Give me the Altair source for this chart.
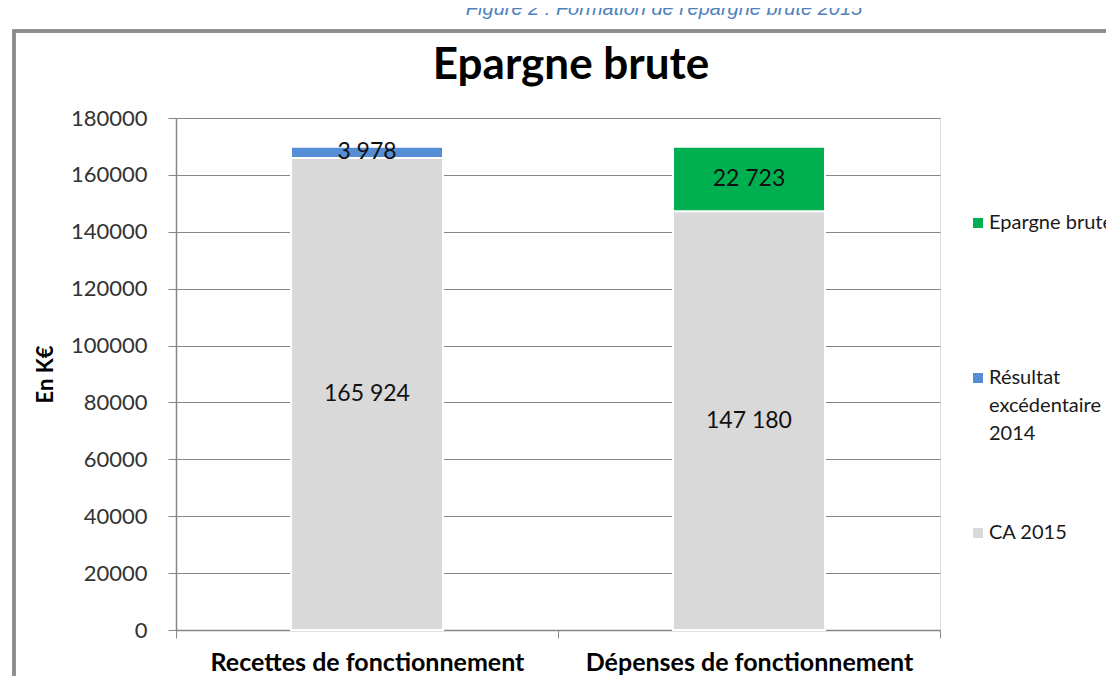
import altair as alt
import pandas as pd

categories = ["Recettes de fonctionnement", "Recettes de fonctionnement",
              "Dépenses de fonctionnement", "Dépenses de fonctionnement"]
series = ["CA 2015", "Résultat excédentaire 2014", "CA 2015", "Epargne brute"]
values = [165924, 3978, 147180, 22723]
stack_rank = [0, 1, 0, 1]

legend_order = ["Epargne brute", "Résultat excédentaire 2014", "CA 2015"]
legend_colors = ["#00B050", "#558ED5", "#D9D9D9"]
y_ticks = [0, 20000, 40000, 60000, 80000, 100000, 120000, 140000, 160000, 180000]
cat_order = ["Recettes de fonctionnement", "Dépenses de fonctionnement"]

title_text = "Epargne brute"
caption_text = "Figure 2 : Formation de l'épargne brute 2015"
y_title = "En K€"

df = pd.DataFrame({"cat": categories, "serie": series, "value": values, "rank": stack_rank})
df["label"] = [f"{v:,}".replace(",", " ") for v in values]

FONT = "Lato"
W, H = 764, 512

base = alt.Chart(df).transform_stack(
    stack="value", as_=["y0", "y1"], groupby=["cat"], sort=[alt.SortField("rank", order="ascending")]
).transform_calculate(mid="(datum.y0 + datum.y1) / 2")

xenc = alt.X("cat:N", sort=cat_order, title=None,
             scale=alt.Scale(paddingInner=0, paddingOuter=0),
             axis=alt.Axis(labelFont=FONT, labelFontSize=25, labelFontWeight="bold", labelColor="#000000",
                           labelPadding=12, labelAngle=0, tickBand="extent", tickSize=8,
                           tickColor="#868686", domainColor="#868686", domainWidth=1.5, grid=False,
                           labelLimit=400))

bars = base.mark_bar(stroke="white", strokeWidth=2, size=152).encode(
    x=xenc,
    y=alt.Y("y0:Q", scale=alt.Scale(domain=[0, 180000], nice=False), title=y_title,
            axis=alt.Axis(values=y_ticks, format="d", labelFont=FONT, labelFontSize=22,
                          labelColor="#333333", labelPadding=21, tickSize=8, tickColor="#868686",
                          domainColor="#868686", domainWidth=1.5, gridColor="#868686", gridWidth=1,
                          titleFont=FONT, titleFontSize=22, titleFontWeight="bold", titleColor="#000000",
                          titlePadding=13)),
    y2="y1:Q",
    color=alt.Color("serie:N", scale=alt.Scale(domain=legend_order, range=legend_colors),
                    legend=alt.Legend(title=None, orient="none", legendX=792, legendY=95,
                                      symbolType="square", symbolSize=100, symbolStrokeWidth=0,
                                      labelFont=FONT, labelFontSize=20, labelColor="#1a1a1a",
                                      labelLimit=300, gridAlign="all", rowPadding=79, labelOffset=1,
                                      labelExpr="datum.label == 'Résultat excédentaire 2014' ? ['Résultat', 'excédentaire', '2014'] : datum.label",
                                      labelBaseline="middle")),
    order=alt.Order("rank:Q"),
)

texts = base.mark_text(font=FONT, fontSize=23, color="#111111", baseline="middle").encode(
    x=alt.X("cat:N", sort=cat_order),
    y=alt.Y("mid:Q"),
    text="label:N",
)

frame = alt.Chart(df).mark_rect(fill=None, stroke="#8C8C8C", strokeWidth=3).encode(
    x=alt.value(-162), x2=alt.value(1100), y=alt.value(-87), y2=alt.value(700)
)

caption = alt.Chart(pd.DataFrame({"t": [caption_text]})).mark_text(
    font="Liberation Sans", fontSize=20, fontStyle="italic", color="#4F81BD", baseline="bottom", align="center"
).encode(x=alt.value(488), y=alt.value(-99), text="t:N")

title = alt.Chart(pd.DataFrame({"t": [title_text]})).mark_text(
    font=FONT, fontSize=44, fontWeight="bold", color="#000000", baseline="middle", align="center"
).encode(x=alt.value(395), y=alt.value(-52), text="t:N")

chart = alt.layer(frame, bars, texts, caption, title).properties(
    width=W, height=H,
    autosize=alt.AutoSizeParams(type="none"),
    padding={"left": 168, "top": 110, "right": 166, "bottom": 46},
).configure_view(stroke=None).configure(font=FONT, style={"guide-label": {"lineHeight": 28}})

chart.save("out.html", embed_options={"renderer": "svg", "actions": False})
